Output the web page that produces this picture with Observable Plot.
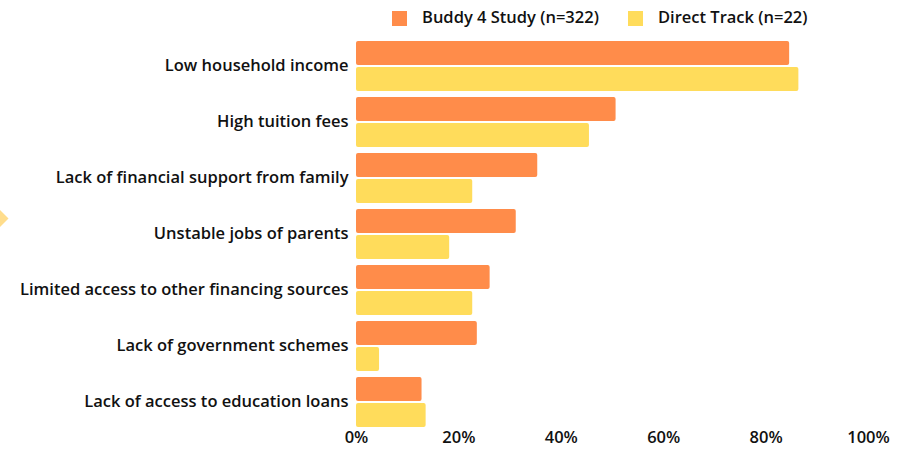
<!DOCTYPE html>
<html><head><meta charset="utf-8">
<script src="https://cdn.jsdelivr.net/npm/d3@7"></script>
<script src="https://cdn.jsdelivr.net/npm/@observablehq/plot@0.6"></script>
<style>
body{margin:0;background:#fff;font-family:"Open Sans",sans-serif;}
#wrap{position:relative;width:907px;height:450px;overflow:hidden;background:#fff}
#deco{position:absolute;left:-12px;top:210px;width:17px;height:17px;background:#FFDD8C;transform:rotate(45deg);}
#legend{height:33px;position:relative;font-family:"Open Sans",sans-serif;font-weight:600;font-size:16.5px;color:#111}
.item{position:absolute;top:0;height:33px;display:flex;align-items:center}
.sw{width:15px;height:15px;margin-right:15px;margin-top:3px}
#chart svg{display:block}
</style></head><body>
<div id="wrap"><div id="deco"></div><div id="legend"></div><div id="chart"></div></div>
<script>
const categories = [
  "Low household income",
  "High tuition fees",
  "Lack of financial support from family",
  "Unstable jobs of parents",
  "Limited access to other financing sources",
  "Lack of government schemes",
  "Lack of access to education loans"
];
const seriesNames = ["Buddy 4 Study (n=322)", "Direct Track (n=22)"];
const buddy4Study = [84.6, 50.7, 35.4, 31.2, 26.1, 23.6, 12.8];
const directTrack = [86.4, 45.5, 22.7, 18.2, 22.7, 4.5, 13.6];
const seriesColors = ["#FF8C4A", "#FFDC5B"];
const xTicks = [0, 20, 40, 60, 80, 100];

const data = categories.flatMap((c, i) => [
  {category: c, series: seriesNames[0], value: buddy4Study[i]},
  {category: c, series: seriesNames[1], value: directTrack[i]}
]);

// legend
const legend = document.getElementById("legend");
const legendLefts = [392, 628];
seriesNames.forEach((s, i) => {
  const it = document.createElement("div");
  it.className = "item";
  it.style.left = legendLefts[i] + "px";
  const sw = document.createElement("div");
  sw.className = "sw";
  sw.style.background = seriesColors[i];
  const tx = document.createElement("span");
  tx.textContent = s;
  it.appendChild(sw); it.appendChild(tx);
  legend.appendChild(it);
});

const chart = Plot.plot({
  width: 907,
  height: 417,
  marginLeft: 356,
  marginRight: 39,
  marginTop: 5,
  marginBottom: 21,
  style: {fontFamily: "'Open Sans', sans-serif", fontSize: "16.5px", fontWeight: 600, color: "#111", background: "transparent", overflow: "visible"},
  x: {domain: [0, 100], ticks: xTicks, tickFormat: d => d + "%", tickSize: 0, tickPadding: 4, label: null},
  fy: {domain: categories, label: null, tickSize: 0, tickPadding: 8, axis: "left", paddingInner: 0.09, paddingOuter: 0},
  y: {domain: seriesNames, axis: null, paddingInner: 0.08, paddingOuter: 0},
  color: {domain: seriesNames, range: seriesColors},
  marks: [
    Plot.barX(data, {x: "value", y: "series", fy: "category", fill: "series", rx: 2})
  ]
});
document.getElementById("chart").appendChild(chart);
</script>
</body></html>
